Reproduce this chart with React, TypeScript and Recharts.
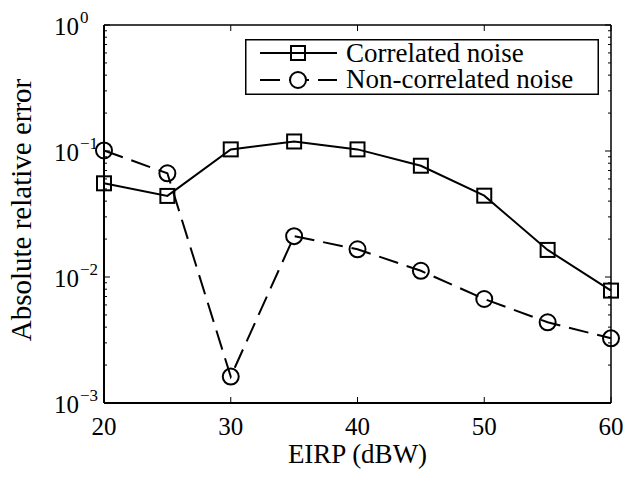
import { Legend, Line, LineChart, XAxis, YAxis } from "recharts";

const eirp = [20, 25, 30, 35, 40, 45, 50, 55, 60];
const correlated = [0.0554, 0.044, 0.103, 0.119, 0.103, 0.0764, 0.0442, 0.0164, 0.0078];
const nonCorrelated = [0.101, 0.0665, 0.00162, 0.0211, 0.0166, 0.0112, 0.00669, 0.00437, 0.00326];

const xTicks = [20, 30, 40, 50, 60];
const yMajor = [0.001, 0.01, 0.1, 1];
const yMinor = [-3, -2, -1].flatMap((k) =>
  [2, 3, 4, 5, 6, 7, 8, 9].map((m) => m * Math.pow(10, k))
);
const yTicks = [...yMajor, ...yMinor].sort((a, b) => a - b);

const data = eirp.map((x, i) => ({
  x,
  corr: correlated[i],
  noncorr: nonCorrelated[i],
}));

const FONT = "'Liberation Serif', 'Times New Roman', serif";
const DASH = "20 9";

const isMajor = (v: number) => {
  const l = Math.log10(v);
  return Math.abs(l - Math.round(l)) < 1e-6;
};

const LeftTick = (props: any) => {
  const { x, y, payload } = props;
  const axisX = x + 8;
  const major = isMajor(payload.value);
  const exp = Math.round(Math.log10(payload.value));
  return (
    <g>
      <line x1={axisX} x2={axisX + (major ? 6 : 3)} y1={y} y2={y} stroke="#000" strokeWidth={1} />
      {major && (
        <>
          <text x={79} y={y + 10} textAnchor="end" fontFamily={FONT} fontSize={25} fill="#000">
            10
          </text>
          <text x={80} y={y - 2} textAnchor="start" fontFamily={FONT} fontSize={17} fill="#000">
            {exp < 0 ? "\u2212" + -exp : String(exp)}
          </text>
        </>
      )}
    </g>
  );
};

const RightTick = (props: any) => {
  const { x, y, payload } = props;
  const axisX = x - 8;
  const major = isMajor(payload.value);
  return <line x1={axisX} x2={axisX - (major ? 6 : 3)} y1={y} y2={y} stroke="#000" strokeWidth={1} />;
};

const BottomTick = (props: any) => {
  const { x, y, payload } = props;
  const axisY = y - 8;
  return (
    <g>
      <line x1={x} x2={x} y1={axisY} y2={axisY - 6} stroke="#000" strokeWidth={1} />
      <text x={x} y={axisY + 32} textAnchor="middle" fontFamily={FONT} fontSize={25} fill="#000">
        {payload.value}
      </text>
    </g>
  );
};

const TopTick = (props: any) => {
  const { x, y } = props;
  const axisY = y + 8;
  return <line x1={x} x2={x} y1={axisY} y2={axisY + 6} stroke="#000" strokeWidth={1} />;
};

const SquareDot = (props: any) => {
  const { cx, cy } = props;
  if (cx == null || cy == null) return null;
  return <rect x={cx - 7} y={cy - 7} width={14} height={14} fill="none" stroke="#000" strokeWidth={2} />;
};

const CircleDot = (props: any) => {
  const { cx, cy } = props;
  if (cx == null || cy == null) return null;
  return <circle cx={cx} cy={cy} r={8} fill="none" stroke="#000" strokeWidth={2} />;
};

const LegendBox = () => (
  <svg width={354} height={56} style={{ display: "block" }}>
    <rect x={0.75} y={0.75} width={352.5} height={54.5} fill="#fff" stroke="#000" strokeWidth={1.5} />
    <line x1={15} x2={92} y1={14} y2={14} stroke="#000" strokeWidth={2} />
    <rect x={46} y={7} width={14} height={14} fill="none" stroke="#000" strokeWidth={2} />
    <text x={101} y={23} fontFamily={FONT} fontSize={27} fill="#000">
      Correlated noise
    </text>
    <line x1={15} x2={92} y1={41} y2={41} stroke="#000" strokeWidth={2} strokeDasharray={DASH} />
    <circle cx={53} cy={41} r={8} fill="#fff" stroke="#000" strokeWidth={2} />
    <text x={101} y={49} fontFamily={FONT} fontSize={27} fill="#000">
      Non-correlated noise
    </text>
  </svg>
);

export default function App() {
  return (
    <div style={{ position: "absolute", left: 0, top: 0, background: "#fff" }}>
      <LineChart
        width={625}
        height={481}
        data={data}
        margin={{ top: 5, right: 0, left: 0, bottom: 0 }}
      >
        <XAxis
          xAxisId="bottom"
          dataKey="x"
          type="number"
          domain={[20, 60]}
          ticks={xTicks}
          interval={0}
          height={78}
          tickSize={8}
          tickMargin={0}
          tickLine={false}
          tick={<BottomTick />}
          axisLine={{ stroke: "#000", strokeWidth: 2 }}
          label={(p: any) => {
            const vb = p.viewBox;
            return (
              <text
                x={vb.x + vb.width / 2}
                y={vb.y + 60}
                textAnchor="middle"
                fontFamily={FONT}
                fontSize={27}
                fill="#000"
              >
                EIRP (dBW)
              </text>
            );
          }}
        />
        <XAxis
          xAxisId="top"
          orientation="top"
          dataKey="x"
          type="number"
          domain={[20, 60]}
          ticks={xTicks}
          interval={0}
          height={20}
          tickSize={8}
          tickMargin={0}
          tickLine={false}
          tick={<TopTick />}
          axisLine={{ stroke: "#000", strokeWidth: 1.5 }}
        />
        <YAxis
          yAxisId="left"
          scale="log"
          domain={[0.001, 1]}
          allowDataOverflow
          ticks={yTicks}
          interval={0}
          width={104}
          tickSize={8}
          tickMargin={0}
          tickLine={false}
          tick={<LeftTick />}
          axisLine={{ stroke: "#000", strokeWidth: 2 }}
          label={(p: any) => {
            const vb = p.viewBox;
            const cx = 31;
            const cy = vb.y + vb.height / 2 - 4;
            return (
              <text
                x={cx}
                y={cy}
                textAnchor="middle"
                transform={`rotate(-90, ${cx}, ${cy})`}
                fontFamily={FONT}
                fontSize={29}
                fill="#000"
              >
                Absolute relative error
              </text>
            );
          }}
        />
        <YAxis
          yAxisId="right"
          orientation="right"
          scale="log"
          domain={[0.001, 1]}
          allowDataOverflow
          ticks={yTicks}
          interval={0}
          width={14}
          tickSize={8}
          tickMargin={0}
          tickLine={false}
          tick={<RightTick />}
          axisLine={{ stroke: "#000", strokeWidth: 1.5 }}
        />
        <Legend
          verticalAlign="middle"
          align="center"
          layout="horizontal"
          content={() => <LegendBox />}
          wrapperStyle={{ left: 245, top: 39, width: 354, height: 56 }}
        />
        <Line
          xAxisId="bottom"
          yAxisId="left"
          dataKey="corr"
          stroke="#000"
          strokeWidth={2}
          dot={<SquareDot />}
          isAnimationActive={false}
          legendType="none"
        />
        <Line
          xAxisId="bottom"
          yAxisId="left"
          dataKey="noncorr"
          stroke="#000"
          strokeWidth={2}
          strokeDasharray={DASH}
          dot={<CircleDot />}
          isAnimationActive={false}
          legendType="none"
        />
      </LineChart>
    </div>
  );
}
